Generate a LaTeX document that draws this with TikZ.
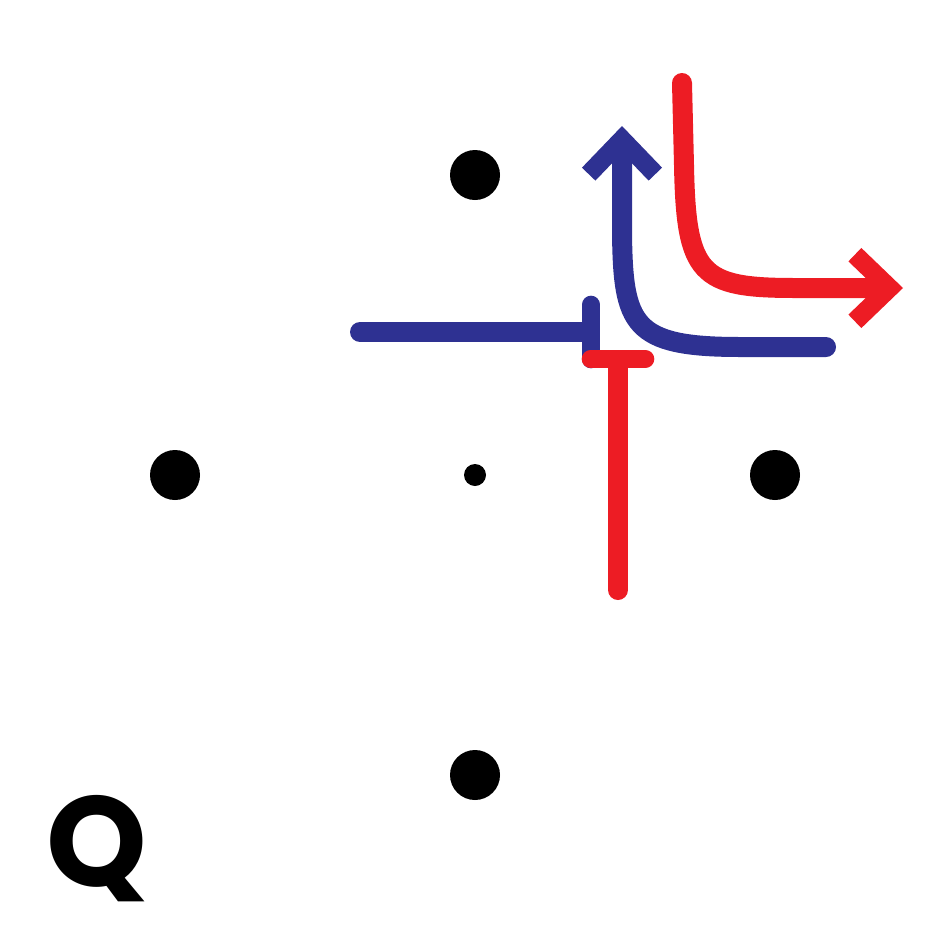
\documentclass[tikz,border=0pt]{standalone}
\usepackage{fontspec}
\newfontfamily\qfont{Poppins}
\usetikzlibrary{arrows.meta}
\definecolor{actred}{HTML}{ED1C24}
\definecolor{repblue}{HTML}{2E3192}

\begin{document}
\begin{tikzpicture}[x=0.75pt, y=-0.75pt,
    dot/.style={circle, fill=black, inner sep=0pt, minimum size=37.5pt},
    smalldot/.style={circle, fill=black, inner sep=0pt, minimum size=16.5pt},
    flow/.style={line width=15pt, line cap=round},
    block/.style={-{Bar[width=41pt, line width=13.5pt, round]}},
    push/.style={-{Straight Barb[length=26pt, width=50pt, line width=14pt]}}
]
\useasboundingbox (0,0) rectangle (950,950);
  % dots
  \node[dot] (n) at (475,175) {};
  \node[dot] (w) at (175,475) {};
  \node[dot] (e) at (775,475) {};
  \node[dot] (s) at (475,775) {};
  \node[smalldot] (c) at (475,475) {};

  % blue path
  \coordinate (bstart) at (360,332);
  \coordinate (bstop) at (600,332);
  \coordinate (bfoot) at (826,347);
  \coordinate (bknee) at (740,347);
  \coordinate (bshin) at (622,232);
  \coordinate (btip) at (622,126);
\draw[flow, repblue, block] (bstart) -- (bstop);
\draw[flow, repblue, push] (bfoot) -- (bknee) .. controls (632,347) and (623,325) .. (bshin) -- (btip);

  % red path
  \coordinate (rstart) at (618,590);
  \coordinate (rstop) at (618,350);
  \coordinate (rtop) at (682,83);
  \coordinate (rknee) at (684,165);
  \coordinate (rfoot) at (795,288);
  \coordinate (rtip) at (903,288);
\draw[flow, actred, block] (rstart) -- (rstop);
\draw[flow, actred, push] (rtop) -- (rknee) .. controls (686,275) and (700,288) .. (rfoot) -- (rtip);

  % label
\node[font=\qfont\bfseries\fontsize{96}{96}\selectfont, inner sep=0pt] (q) at (97,849) {Q};
\end{tikzpicture}
\end{document}
